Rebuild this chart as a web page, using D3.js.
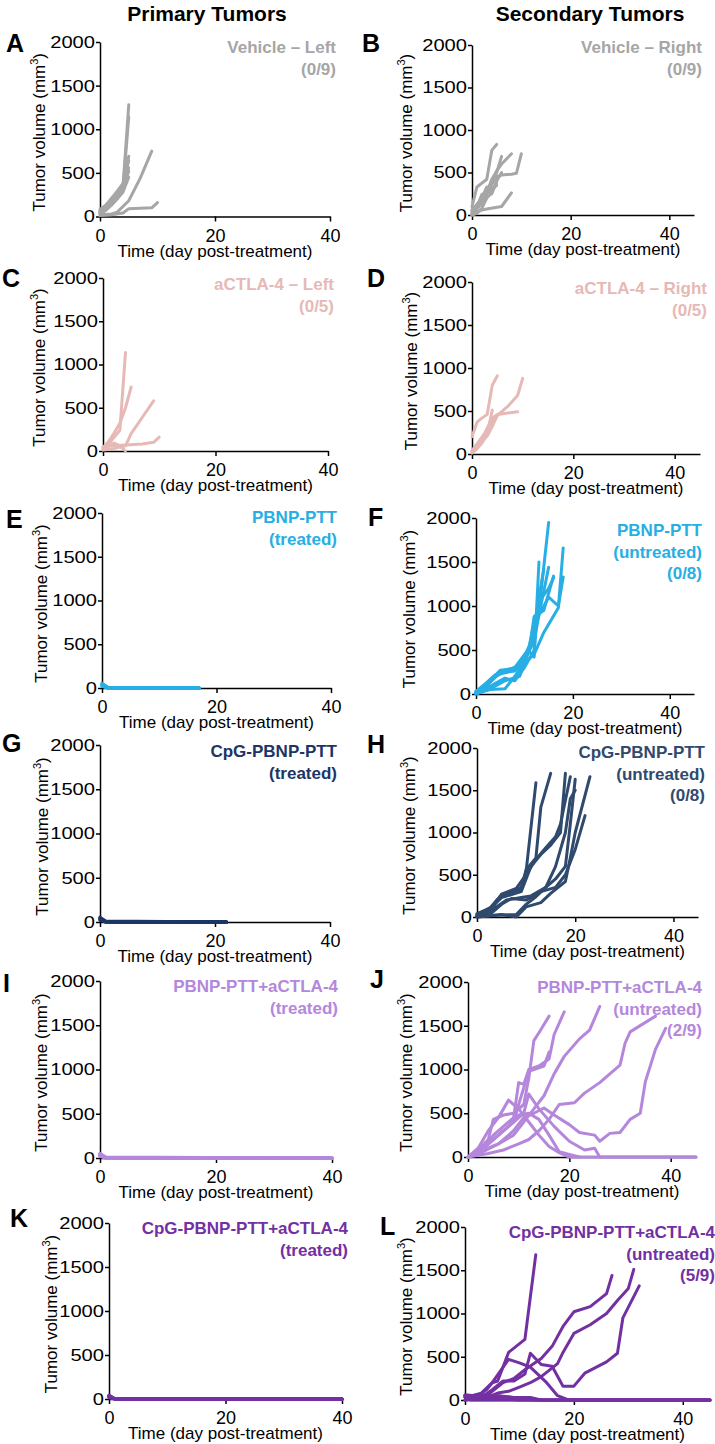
<!DOCTYPE html>
<html><head><meta charset="utf-8">
<script src="https://cdn.jsdelivr.net/npm/d3@7"></script>
<style>body{margin:0;background:#fff} text{font-family:"Liberation Sans",Arial,sans-serif}</style>
</head><body><svg id="c" width="715" height="1444"></svg>
<script>
// ---------- data ----------
const xTicks = [0, 20, 40];
const yTicks = [0, 500, 1000, 1500, 2000];
const columnTitles = ["Primary Tumors", "Secondary Tumors"];
const panelLetters = ["A","B","C","D","E","F","G","H","I","J","K","L"];
const panelLabels = [
  ["Vehicle – Left","(0/9)"], ["Vehicle – Right","(0/9)"],
  ["aCTLA-4 – Left","(0/5)"], ["aCTLA-4 – Right","(0/5)"],
  ["PBNP-PTT","(treated)"], ["PBNP-PTT","(untreated)","(0/8)"],
  ["CpG-PBNP-PTT","(treated)"], ["CpG-PBNP-PTT","(untreated)","(0/8)"],
  ["PBNP-PTT+aCTLA-4","(treated)"], ["PBNP-PTT+aCTLA-4","(untreated)","(2/9)"],
  ["CpG-PBNP-PTT+aCTLA-4","(treated)"], ["CpG-PBNP-PTT+aCTLA-4","(untreated)","(5/9)"]
];
const panelColors = ["#a6a6a6","#a6a6a6","#e6b9b6","#e6b9b6","#27aee4","#27aee4",
  "#1c3566","#2f4a6d","#b487dc","#b487dc","#7230a2","#7230a2"];
const xMaxDays = [40,45,40,45,40,45,40,45,40,45,40,45];

const vehicleLeft = [
  [[0,60],[1,110],[2,180],[3,250],[4,340],[5,1280]],
  [[0,50],[1,100],[2,170],[3,240],[4,330],[5,1140]],
  [[0,70],[1,120],[2,190],[3,270],[4,350],[5,690]],
  [[0,40],[1,90],[2,150],[3,220],[4,300],[5,560]],
  [[0,30],[1,70],[2,130],[3,200],[4,280],[5,450]],
  [[0,20],[2,30],[3,50],[5,180],[7,440],[9,750]],
  [[0,10],[2,20],[4,40],[5,90],[9,100],[10,160]],
  [[0,80],[1,130],[2,210],[3,290],[4,380],[5,640]],
  [[0,45],[1,90],[2,160],[3,230],[4,310],[5,520]]
];
const vehicleRight = [
  [[0,100],[1,330],[3,420],[4,760],[5,830]],
  [[0,20],[1,80],[2,240],[3,270],[5,520],[6,600],[8,720]],
  [[0,30],[2,180],[4,370],[5,450],[6,470],[8,480],[9,490],[10,720]],
  [[0,0],[2,140],[4,350],[5,500],[6,690]],
  [[0,0],[1,30],[2,60],[3,70],[6,100],[8,260]],
  [[0,50],[2,200],[3,330],[4,250],[5,400],[6,500]],
  [[0,0],[1,20],[2,80],[3,200],[4,260],[5,380]],
  [[0,40],[1,100],[2,230],[4,300],[5,350]],
  [[0,60],[2,180],[3,260],[4,420],[5,510]]
];
const ctlaLeft = [
  [[0,30],[1,80],[2,160],[3,240],[4,1140]],
  [[0,40],[1,110],[2,210],[3,320],[4,500],[5,740]],
  [[0,10],[2,30],[4,60],[5,200],[7,390],[9,580]],
  [[0,50],[2,60],[4,70],[7,80],[9,100],[10,160]],
  [[0,20],[1,60],[2,90],[3,60],[4,0]]
];
const ctlaRight = [
  [[0,200],[1,370],[2,420],[3,460],[4,800],[5,910]],
  [[0,30],[1,80],[2,150],[3,210],[4,320],[5,450],[7,550],[9,680],[10,880]],
  [[0,20],[1,100],[2,180],[3,300],[4,420],[5,460],[9,490]],
  [[0,10],[1,60],[2,130],[3,230],[4,510]],
  [[0,40],[1,120],[2,200],[3,270],[4,380],[5,450]]
];
const pbnpTreated = [
  [[0,50],[1,5],[17,0]], [[0,30],[1,0],[17,0]], [[0,40],[1,10],[2,0],[17,0]],
  [[0,20],[1,0],[17,0]], [[0,45],[1,0],[17,0]], [[0,35],[1,5],[17,0]],
  [[0,25],[1,0],[17,0]], [[0,55],[1,10],[17,0]]
];
const pbnpUntreated = [
  [[0,20],[2,100],[5,270],[7,280],[9,320],[11,520],[13,950],[15,1950]],
  [[0,10],[2,80],[4,200],[6,250],[9,330],[11,480],[12,420],[13,1500]],
  [[0,30],[2,90],[5,240],[8,260],[10,380],[12,600],[13,900],[15,1440]],
  [[0,0],[3,60],[6,150],[9,200],[11,500],[12,880],[14,950],[16,1340]],
  [[0,10],[3,50],[6,60],[8,200],[10,350],[12,450],[14,700],[17,980],[18,1660]],
  [[0,20],[3,150],[5,260],[8,300],[11,520],[13,900],[15,1100],[17,1000],[18,1330]],
  [[0,0],[2,60],[4,120],[6,180],[8,150],[10,300],[12,500],[13,1100],[14,1420]],
  [[0,30],[2,120],[4,220],[6,240],[9,300],[11,550],[13,1050],[15,1200],[16,1320]]
];
const cpgTreated = [
  [[0,50],[1,5],[22,0]], [[0,30],[1,0],[22,0]], [[0,40],[1,10],[2,0],[22,0]],
  [[0,20],[1,0],[22,0]], [[0,45],[1,0],[22,0]], [[0,35],[1,5],[22,0]],
  [[0,25],[1,0],[22,0]], [[0,55],[1,10],[22,0]]
];
const cpgUntreated = [
  [[0,20],[2,60],[4,200],[6,280],[9,350],[10,540],[12,1590]],
  [[0,10],[3,100],[5,260],[9,330],[10,560],[12,700],[13,1300],[15,1700]],
  [[0,30],[3,120],[5,230],[9,300],[11,600],[13,740],[15,850],[17,1000],[18,1700]],
  [[0,40],[3,110],[5,270],[8,340],[10,500],[12,680],[14,820],[16,950],[17,1100],[19,1660]],
  [[0,0],[4,20],[8,30],[10,150],[12,240],[14,350],[16,450],[18,600],[19,1100],[20,1630]],
  [[0,0],[5,30],[8,0],[10,120],[13,170],[15,280],[18,420],[19,700],[20,1000],[23,1660]],
  [[0,20],[3,50],[5,150],[7,220],[10,200],[13,300],[16,350],[18,500],[20,800],[22,1200]],
  [[0,10],[3,80],[6,200],[9,230],[11,250],[14,350],[16,600],[18,1000],[19,1400],[20,1500]]
];
const pbnpCtlaTreated = [
  [[0,50],[1,5],[40,0]], [[0,30],[1,0],[40,0]], [[0,40],[1,10],[2,0],[40,0]],
  [[0,20],[1,0],[40,0]], [[0,45],[1,0],[40,0]], [[0,35],[1,5],[40,0]],
  [[0,25],[1,0],[40,0]], [[0,55],[1,10],[40,0]], [[0,30],[1,0],[40,0]]
];
const pbnpCtlaUntreated = [
  [[0,0],[2,80],[4,200],[5,430],[7,480],[9,500],[11,600],[12,900],[13,1330],[14,1420],[16,1610]],
  [[0,0],[3,120],[5,250],[7,350],[9,450],[10,850],[11,830],[12,1000],[14,1040],[16,1120],[17,1400],[19,1660]],
  [[0,0],[3,80],[6,150],[9,250],[11,400],[13,550],[15,700],[17,950],[19,1150],[22,1350],[24,1450],[26,1720]],
  [[0,0],[4,40],[7,80],[10,150],[12,200],[14,300],[16,430],[18,600],[21,620],[23,730],[26,850],[28,950],[30,1050],[31,1300],[32,1430],[37,1610]],
  [[0,0],[3,60],[6,150],[9,300],[11,450],[13,500],[15,560],[17,480],[20,370],[22,280],[25,250],[26,180],[28,270],[30,280],[32,430],[34,500],[35,860],[37,1230],[39,1470]],
  [[0,0],[2,100],[4,300],[6,450],[8,650],[10,550],[12,400],[14,250],[16,120],[18,50],[20,0],[45,0]],
  [[0,0],[3,100],[6,250],[9,400],[11,500],[12,720],[14,550],[17,350],[20,180],[23,80],[25,100],[26,0],[45,0]],
  [[0,0],[2,50],[5,200],[8,350],[10,480],[12,500],[14,430],[16,250],[18,60],[20,30],[22,0]],
  [[0,0],[2,60],[4,150],[7,300],[9,400],[10,600],[12,980],[13,1000],[15,1040],[16,1200]]
];
const cpgCtlaTreated = [
  [[0,40],[1,5],[40,0]], [[0,30],[1,0],[40,0]], [[0,20],[1,0],[40,0]],
  [[0,35],[1,0],[40,0]], [[0,25],[1,5],[40,0]], [[0,45],[1,0],[40,0]],
  [[0,30],[1,0],[40,0]], [[0,15],[1,0],[40,0]], [[0,40],[1,0],[40,0]]
];
const cpgCtlaUntreated = [
  [[0,50],[2,30],[4,120],[5,200],[6,220],[8,550],[11,700],[13,1680]],
  [[0,0],[3,30],[5,100],[7,200],[9,250],[11,350],[14,480],[16,620],[18,850],[20,1020],[23,1080],[26,1230],[27,1440]],
  [[0,0],[4,30],[6,80],[8,100],[10,150],[12,200],[14,270],[17,420],[18,550],[20,770],[23,870],[26,1000],[28,1150],[30,1290],[31,1510]],
  [[0,50],[3,30],[5,120],[7,220],[9,220],[11,300],[12,540],[14,410],[16,390],[18,160],[20,160],[22,310],[26,440],[28,540],[29,950],[32,1320]],
  [[0,30],[3,80],[5,200],[8,470],[10,430],[12,380],[15,200],[17,50],[19,0],[45,0]],
  [[0,60],[3,40],[6,50],[9,30],[12,30],[14,0],[45,0]],
  [[0,40],[2,20],[5,30],[8,10],[10,0],[45,0]],
  [[0,50],[1,0],[45,0]],
  [[0,30],[4,60],[7,40],[10,20],[13,0],[45,0]]
];
const seriesByPanel = [vehicleLeft, vehicleRight, ctlaLeft, ctlaRight, pbnpTreated, pbnpUntreated,
  cpgTreated, cpgUntreated, pbnpCtlaTreated, pbnpCtlaUntreated, cpgCtlaTreated, cpgCtlaUntreated];

// ---------- layout ----------
const layout = [
  {x0:100,xEnd:330,yTop:42,yBot:216.5,lx:6,ly:52,tx:336,ty:53,yt:45},
  {x0:472,xEnd:694,yTop:45,yBot:215,lx:362,ly:52,tx:702,ty:53,yt:412},
  {x0:103,xEnd:328,yTop:278,yBot:451,lx:2,ly:287,tx:334,ty:290,yt:45},
  {x0:472,xEnd:700,yTop:282,yBot:454,lx:367,ly:287,tx:707,ty:294,yt:417},
  {x0:102,xEnd:331,yTop:513,yBot:688,lx:6,ly:528,tx:337,ty:523,yt:47},
  {x0:476,xEnd:694,yTop:518,yBot:694,lx:368,ly:526,tx:702,ty:536,yt:415},
  {x0:100,xEnd:330,yTop:745,yBot:922,lx:2,ly:752,tx:337,ty:757,yt:48},
  {x0:477,xEnd:698,yTop:748,yBot:917,lx:367,ly:753,tx:705,ty:758,yt:415},
  {x0:100,xEnd:332,yTop:981,yBot:1158,lx:3,ly:992,tx:338,ty:992,yt:47},
  {x0:468,xEnd:696,yTop:982,yBot:1157,lx:370,ly:988,tx:702,ty:993,yt:412},
  {x0:109,xEnd:342,yTop:1223,yBot:1399,lx:10,ly:1227,tx:348,ty:1234,yt:57},
  {x0:465,xEnd:710,yTop:1227,yBot:1400,lx:380,ly:1235,tx:715,ty:1238,yt:412}
];

const svg = d3.select("#c");
svg.append("text").attr("x",207).attr("y",21).attr("text-anchor","middle")
  .attr("font-size",21).attr("font-weight","bold").text(columnTitles[0]);
svg.append("text").attr("x",590).attr("y",21).attr("text-anchor","middle")
  .attr("font-size",21).attr("font-weight","bold").text(columnTitles[1]);

layout.forEach((L, i) => {
  const g = svg.append("g");
  const color = panelColors[i];
  const x = d3.scaleLinear().domain([0, xMaxDays[i]]).range([L.x0, L.xEnd]);
  const y = d3.scaleLinear().domain([0, 2000]).range([L.yBot, L.yTop]);

  const ax = g.append("g").attr("transform", `translate(0,${L.yBot})`)
    .call(d3.axisBottom(x).tickValues(xTicks).tickSize(5).tickSizeOuter(0).tickFormat(d3.format("d")));
  ax.selectAll("text").attr("y", 25).attr("dy", 0).attr("font-size", 18).attr("fill","#000");
  const ay = g.append("g").attr("transform", `translate(${L.x0},0)`)
    .call(d3.axisLeft(y).tickValues(yTicks).tickSize(4).tickSizeOuter(0).tickFormat(d3.format("d")));
  ay.selectAll("text").attr("x", -5).attr("font-size", 17).attr("fill","#000")
    .attr("textLength", d => String(d).length * 11.2).attr("lengthAdjust","spacingAndGlyphs");
  g.selectAll(".domain, .tick line").attr("stroke","#000").attr("stroke-width",1.5);
  g.selectAll(".tick text").attr("font-family",'"Liberation Sans",Arial,sans-serif');

  // titles
  g.append("text").attr("x", (L.x0 + L.xEnd) / 2).attr("y", L.yBot + 40)
    .attr("text-anchor","middle").attr("font-size",17).text("Time (day post-treatment)");
  const yt = g.append("text").attr("transform", `translate(${L.yt},${(L.yTop + L.yBot)/2 + 3}) rotate(-90)`)
    .attr("text-anchor","middle").attr("font-size",17);
  yt.append("tspan").text("Tumor volume (mm");
  yt.append("tspan").attr("font-size",11).attr("dy",-7).text("3");
  yt.append("tspan").attr("dy",7).text(")");

  // panel letter
  g.append("text").attr("x", L.lx).attr("y", L.ly).attr("font-size",25).attr("font-weight","bold").text(panelLetters[i]);

  // lines
  const line = d3.line().x(d => x(d[0])).y(d => y(d[1]));
  g.append("g").selectAll("path").data(seriesByPanel[i]).join("path")
    .attr("d", line).attr("fill","none").attr("stroke",color)
    .attr("stroke-width",3).attr("stroke-linejoin","round").attr("stroke-linecap","round");

  // group label
  g.append("g").selectAll("text").data(panelLabels[i]).join("text")
    .attr("x", L.tx).attr("y", (d, k) => L.ty + k * 21.5).attr("text-anchor","end")
    .attr("font-size",17).attr("font-weight","bold").attr("fill",color).text(d => d);
});
</script></body></html>
